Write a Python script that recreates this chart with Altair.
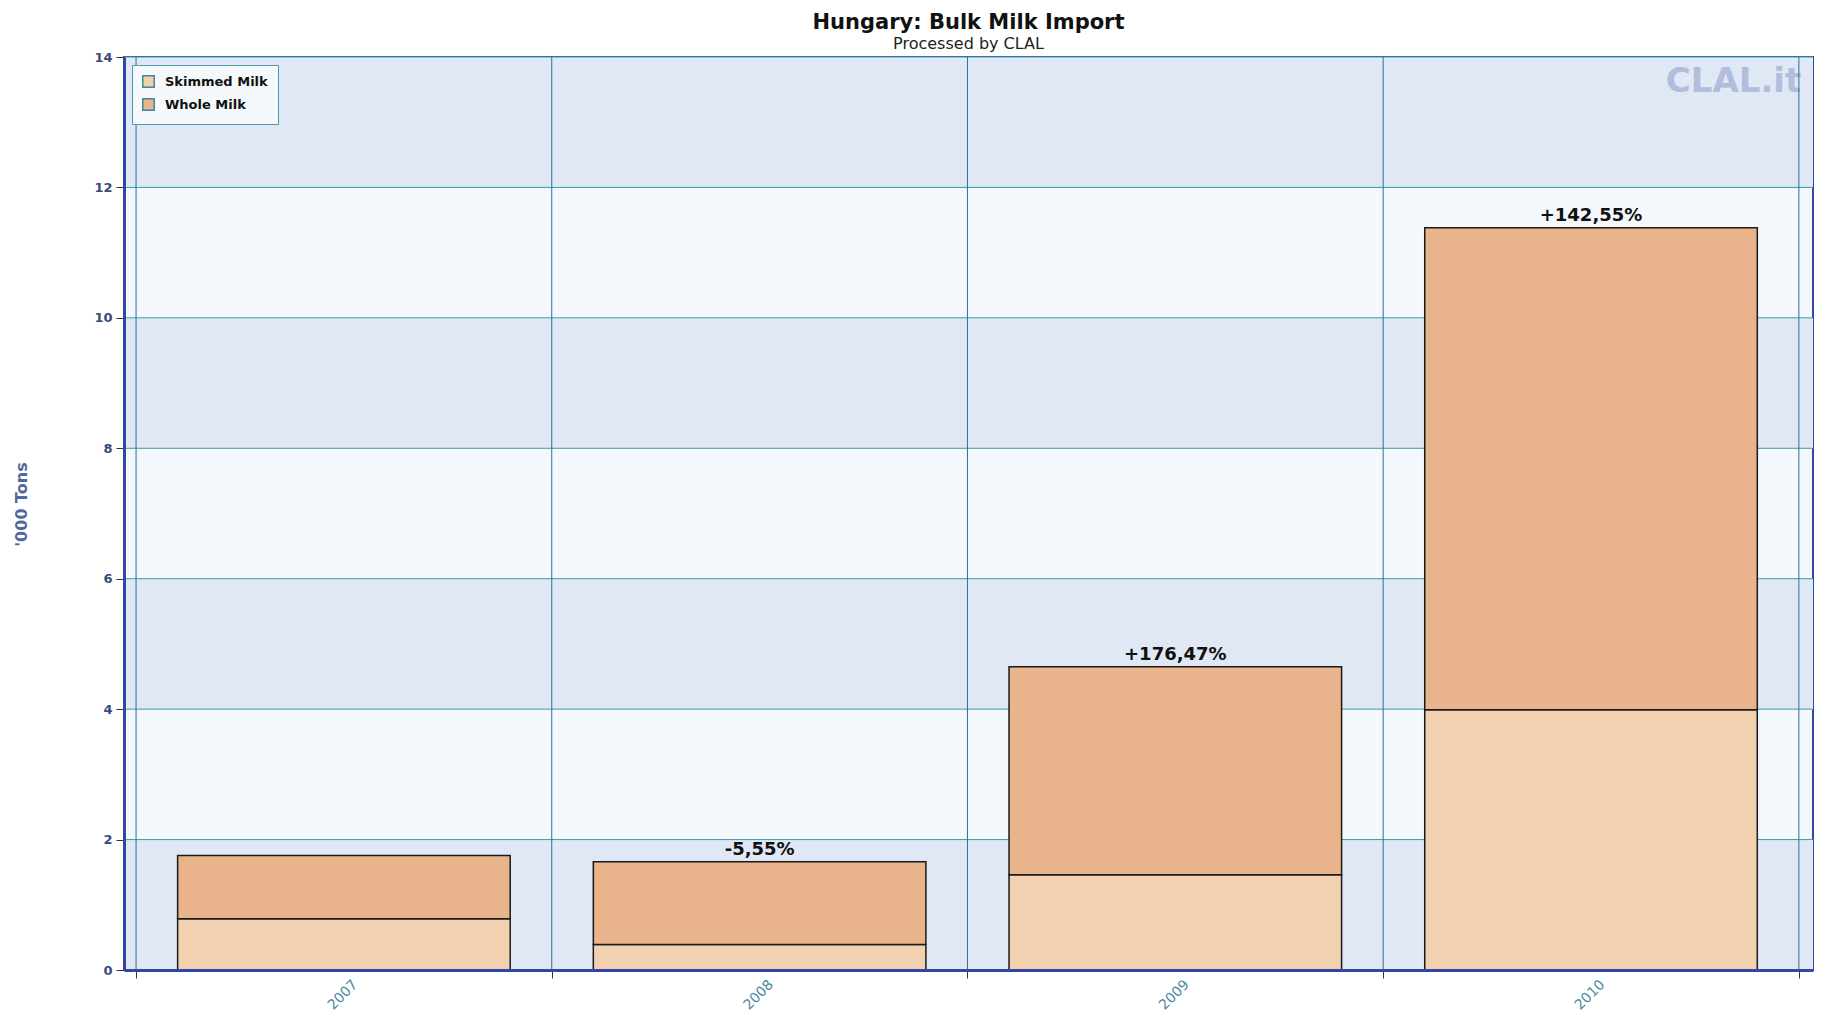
import altair as alt
import pandas as pd

# ---- data ----
years = [2007, 2008, 2009, 2010]
skimmed = [0.785, 0.39, 1.46, 3.99]
whole = [0.97, 1.27, 3.19, 7.39]
pct_labels = ["", "-5,55%", "+176,47%", "+142,55%"]
series_names = ["Skimmed Milk", "Whole Milk"]
series_colors = ["#f2d1b0", "#e9b38b"]
y_ticks = [0, 2, 4, 6, 8, 10, 12, 14]
stripe_starts = [0, 4, 8, 12]
boundaries = [2006.5, 2007.5, 2008.5, 2009.5, 2010.5]
watermark = ["CLAL.it"]

rows = []
for i, yr in enumerate(years):
    rows.append(dict(year=yr, series=series_names[0], value=skimmed[i], order=0, pct=pct_labels[i]))
    rows.append(dict(year=yr, series=series_names[1], value=whole[i], order=1, pct=pct_labels[i]))
df = pd.DataFrame(rows)

W, H = 1689, 913
FONT = "DejaVu Sans"
AXIS_BLUE = "#3345a5"

xscale = alt.Scale(domain=[2006.471, 2010.534], nice=False, zero=False)
yscale = alt.Scale(domain=[0, 14], nice=False, zero=True)

xaxis = alt.Axis(
    values=boundaries, title=None, grid=False,
    labelExpr="datum.value < 2010 ? format(datum.value + 0.5, 'd') : ''",
    labelAngle=-45, labelAlign="right", labelBaseline="middle",
    labelOffset=219, labelPadding=4, labelFontSize=14, labelFont=FONT,
    labelColor="#4a8a9c", domainColor=AXIS_BLUE, domainWidth=3,
    tickColor="#333333", tickSize=8, zindex=1,
)
yaxis = alt.Axis(
    values=y_ticks, format="d", title="'000 Tons", grid=False,
    titleFont=FONT, titleFontSize=16, titleFontWeight="bold", titleColor="#5566a0",
    titleX=-103, titleY=447, titleAngle=-90, titleBaseline="middle", titleAlign="center",
    labelFont=FONT, labelFontSize=13, labelFontWeight="bold", labelColor="#3c4a7a",
    labelPadding=4, domainColor=AXIS_BLUE, domainWidth=3,
    tickColor="#333333", tickSize=8, zindex=1,
)

stripes = alt.Chart(pd.DataFrame({"lo": stripe_starts})).transform_calculate(
    hi="datum.lo + 2"
).mark_rect(color="#dfe8f4").encode(
    y=alt.Y("lo:Q", scale=yscale, axis=yaxis),
    y2="hi:Q",
    x=alt.value(0),
    x2=alt.value(W),
)

wm = alt.Chart(pd.DataFrame({"t": watermark, "x": [2010.18], "y": [13.62]})).mark_text(
    font=FONT, fontWeight="bold", fontSize=34, color="#93a2cc", opacity=0.6,
    align="left", baseline="middle", clip=True,
).encode(
    x=alt.X("x:Q", scale=xscale, axis=xaxis),
    y=alt.Y("y:Q", scale=yscale, axis=yaxis),
    text="t:N",
)

hgrid = alt.Chart(pd.DataFrame({"v": y_ticks})).mark_rule(
    color="#35a0a0", strokeWidth=1
).encode(y=alt.Y("v:Q", scale=yscale, axis=yaxis))

vgrid = alt.Chart(pd.DataFrame({"b": boundaries})).mark_rule(
    color="#2e6f95", strokeWidth=1
).encode(x=alt.X("b:Q", scale=xscale, axis=xaxis))

bars = alt.Chart(df).transform_calculate(
    x0="datum.year - 0.4", x1="datum.year + 0.4"
).transform_stack(
    stack="value", groupby=["year"], as_=["y0", "y1"], sort=[alt.SortField("order")]
).mark_bar(stroke="#1a1a1a", strokeWidth=1.5, opacity=1).encode(
    x=alt.X("x0:Q", scale=xscale, axis=xaxis),
    x2="x1:Q",
    y=alt.Y("y0:Q", scale=yscale, axis=yaxis),
    y2="y1:Q",
    color=alt.Color(
        "series:N",
        scale=alt.Scale(domain=series_names, range=series_colors),
        legend=alt.Legend(
            orient="top-left", offset=8, title=None,
            fillColor="#f5f9fc", strokeColor="#4a9aaa", padding=10,
            symbolType="square", symbolSize=130, symbolStrokeColor="#3a8a9a",
            symbolStrokeWidth=1.5, symbolOpacity=1,
            labelFont=FONT, labelFontSize=13, labelFontWeight="bold", labelColor="#111111",
            labelOffset=10, rowPadding=4, cornerRadius=0,
        ),
    ),
)

pct = alt.Chart(df).transform_aggregate(
    total="sum(value)", groupby=["year", "pct"]
).mark_text(
    font=FONT, fontWeight="bold", fontSize=18, color="#111111",
    baseline="alphabetic", dy=-7,
).encode(
    x=alt.X("year:Q", scale=xscale, axis=xaxis),
    y=alt.Y("total:Q", scale=yscale, axis=yaxis),
    text="pct:N",
)

chart = alt.layer(stripes, wm, hgrid, vgrid, bars, pct).properties(
    width=W,
    height=H,
    autosize=alt.AutoSizeParams(type="none"),
    padding={"left": 116, "top": 49, "right": 1, "bottom": 44},
    title=alt.TitleParams(
        text="Hungary: Bulk Milk Import",
        subtitle="Processed by CLAL",
        font=FONT, fontSize=21, fontWeight="bold", color="#111111",
        subtitleFont=FONT, subtitleFontSize=16, subtitleColor="#222222",
        anchor="middle", offset=-1, subtitlePadding=3,
    ),
).configure_view(
    stroke=AXIS_BLUE, strokeWidth=2, fill="#f4f8fd"
)

chart.save("out.html", embed_options={"renderer": "svg", "actions": False})
